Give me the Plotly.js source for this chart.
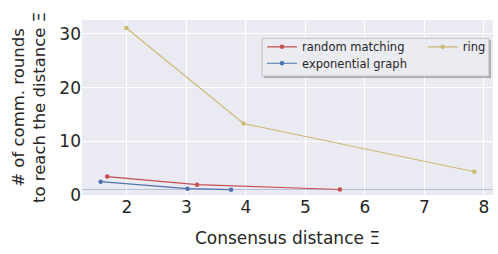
<!DOCTYPE html>
<html>
<head>
<meta charset="utf-8">
<script src="https://cdn.plot.ly/plotly-3.0.1.min.js"></script>
<style>html,body{margin:0;padding:0;background:#fff;}#chart{width:498px;height:254px;}</style>
</head>
<body>
<div id="chart"></div>
<script>
// Data
const randomX = [1.67, 3.18, 5.58];
const randomY = [3.4, 1.9, 1.0];
const expX = [1.56, 3.02, 3.75];
const expY = [2.45, 1.15, 0.97];
const ringX = [1.99, 3.96, 7.84];
const ringY = [31.1, 13.3, 4.3];
const refLineY = 1;
const xTicks = [2, 3, 4, 5, 6, 7, 8];
const yTicks = [0, 10, 20, 30];
const seriesNames = ["random matching", "exponential graph", "ring"];

const FONT = "DejaVu Sans, sans-serif";
const TXT = "#262626";

const traces = [
  {x: [1.246, 8.154], y: [refLineY, refLineY], mode: "lines", showlegend: false, hoverinfo: "skip",
   line: {color: "rgba(76,114,176,0.35)", width: 1}},
  {x: randomX, y: randomY, name: seriesNames[0], mode: "lines+markers", legend: "legend",
   line: {color: "#C44E52", width: 1.2}, marker: {color: "#C44E52", size: 4.5}},
  {x: expX, y: expY, name: seriesNames[1], mode: "lines+markers", legend: "legend2",
   line: {color: "#4C72B0", width: 1.2}, marker: {color: "#4C72B0", size: 4.5}},
  {x: ringX, y: ringY, name: seriesNames[2], mode: "lines+markers", legend: "legend3",
   line: {color: "#CCB974", width: 1.2}, marker: {color: "#CCB974", size: 4.5}}
];

const legBase = {bgcolor: "rgba(0,0,0,0)", borderwidth: 0, font: {family: FONT, size: 11.5, color: TXT},
  xanchor: "left", yanchor: "middle", itemwidth: 30};

const layout = {
  width: 498, height: 254,
  margin: {l: 82, r: 5, t: 20, b: 59, pad: 0},
  paper_bgcolor: "#ffffff",
  plot_bgcolor: "#EAEAF2",
  font: {family: FONT, color: TXT, size: 17},
  showlegend: true,
  xaxis: {
    range: [1.246, 8.154], tickvals: xTicks, ticktext: xTicks.map(String),
    showgrid: true, gridcolor: "#ffffff", gridwidth: 1, zeroline: false, showline: false,
    ticks: "", tickfont: {family: FONT, size: 17, color: TXT},
    title: {text: "Consensus distance Ξ", font: {family: FONT, size: 17, color: TXT}, standoff: 16}
  },
  yaxis: {
    range: [-0.03, 32.6], tickvals: yTicks, ticktext: yTicks.map(String),
    showgrid: true, gridcolor: "#ffffff", gridwidth: 1, zeroline: false, showline: false,
    ticks: "", tickfont: {family: FONT, size: 17, color: TXT},
    title: {text: "# of comm. rounds<br>to reach the distance Ξ", font: {family: FONT, size: 16.5, color: TXT}, standoff: 9}
  },
  shapes: [
    {type: "rect", xref: "paper", yref: "paper", x0: 0.443, x1: 0.995, y0: 0.669, y1: 0.884,
     fillcolor: "rgba(0,0,0,0.28)", line: {width: 0}, layer: "above"},
    {type: "rect", xref: "paper", yref: "paper", x0: 0.438, x1: 0.990, y0: 0.680, y1: 0.895,
     fillcolor: "#EBEBF2", line: {color: "#c4c4c4", width: 1}, layer: "above"}
  ],
  legend: Object.assign({}, legBase, {x: 0.438, y: 0.847}),
  legend2: Object.assign({}, legBase, {x: 0.438, y: 0.753}),
  legend3: Object.assign({}, legBase, {x: 0.829, y: 0.847})
};

Plotly.newPlot("chart", traces, layout, {displayModeBar: false, staticPlot: true});
</script>
</body>
</html>
